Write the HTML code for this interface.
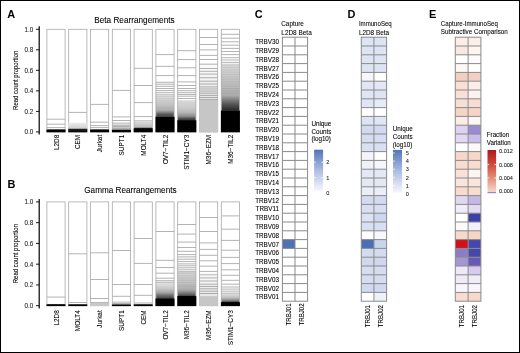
<!DOCTYPE html>
<html><head><meta charset="utf-8"><style>
html,body{margin:0;padding:0;background:#fff;}
body{width:520px;height:353px;overflow:hidden;position:relative;font-family:"Liberation Sans",sans-serif;}
.frame{position:absolute;left:0;top:0;width:518px;height:351px;border:1px solid #000;}
svg{position:absolute;left:0;top:0;filter:blur(0.35px);}
</style></head><body>
<svg width="520" height="353" viewBox="0 0 520 353" font-family="'Liberation Sans', sans-serif"><defs><linearGradient id="lg1" x1="0" y1="0" x2="0" y2="1"><stop offset="0.000" stop-color="#ececec"/><stop offset="0.550" stop-color="#d2d2d2"/><stop offset="0.620" stop-color="#909090"/><stop offset="0.700" stop-color="#202020"/><stop offset="1.000" stop-color="#000"/></linearGradient><linearGradient id="lg2" x1="0" y1="0" x2="0" y2="1"><stop offset="0.000" stop-color="#fafafa"/><stop offset="1.000" stop-color="#d0d0d0"/></linearGradient><linearGradient id="lg3" x1="0" y1="0" x2="0" y2="1"><stop offset="0.000" stop-color="#dadada"/><stop offset="0.800" stop-color="#bcbcbc"/><stop offset="0.920" stop-color="#808080"/><stop offset="1.000" stop-color="#404040"/></linearGradient><linearGradient id="lg4" x1="0" y1="0" x2="0" y2="1"><stop offset="0.000" stop-color="#e0e0e0"/><stop offset="0.450" stop-color="#cacaca"/><stop offset="0.680" stop-color="#b0b0b0"/><stop offset="0.780" stop-color="#8a8a8a"/><stop offset="0.860" stop-color="#606060"/><stop offset="1.000" stop-color="#404040"/></linearGradient><linearGradient id="lg5" x1="0" y1="0" x2="0" y2="1"><stop offset="0.000" stop-color="#d8d8d8"/><stop offset="0.350" stop-color="#cccccc"/><stop offset="0.600" stop-color="#b8b8b8"/><stop offset="0.800" stop-color="#8c8c8c"/><stop offset="0.900" stop-color="#555555"/><stop offset="1.000" stop-color="#303030"/></linearGradient><linearGradient id="lg6" x1="0" y1="0" x2="0" y2="1"><stop offset="0.000" stop-color="#ffffff"/><stop offset="1.000" stop-color="#e4e4e4"/></linearGradient><linearGradient id="lg7" x1="0" y1="0" x2="0" y2="1"><stop offset="0.000" stop-color="#dcdcdc"/><stop offset="0.345" stop-color="#c8c8c8"/><stop offset="0.666" stop-color="#b0b0b0"/><stop offset="0.773" stop-color="#7c7c7c"/><stop offset="0.880" stop-color="#505050"/><stop offset="1.000" stop-color="#282828"/></linearGradient><linearGradient id="lg8" x1="0" y1="0" x2="0" y2="1"><stop offset="0.000" stop-color="#e0e0e0"/><stop offset="0.350" stop-color="#c8c8c8"/><stop offset="0.600" stop-color="#a8a8a8"/><stop offset="0.800" stop-color="#707070"/><stop offset="1.000" stop-color="#404040"/></linearGradient><linearGradient id="lg9" x1="0" y1="0" x2="0" y2="1"><stop offset="0.000" stop-color="#d8d8d8"/><stop offset="0.500" stop-color="#c4c4c4"/><stop offset="0.750" stop-color="#a8a8a8"/><stop offset="0.900" stop-color="#707070"/><stop offset="1.000" stop-color="#404040"/></linearGradient><linearGradient id="lg10" x1="0" y1="0" x2="0" y2="1"><stop offset="0.000" stop-color="#ffffff"/><stop offset="1.000" stop-color="#e6e6e6"/></linearGradient><linearGradient id="lg11" x1="0" y1="0" x2="0" y2="1"><stop offset="0.000" stop-color="#e0e0e0"/><stop offset="0.450" stop-color="#c0c0c0"/><stop offset="0.750" stop-color="#909090"/><stop offset="1.000" stop-color="#404040"/></linearGradient><linearGradient id="lg12" x1="0" y1="0" x2="0" y2="1"><stop offset="0.000" stop-color="#5275b8"/><stop offset="0.500" stop-color="#aebde2"/><stop offset="1.000" stop-color="#f5f7fc"/></linearGradient><linearGradient id="lg13" x1="0" y1="0" x2="0" y2="1"><stop offset="0.000" stop-color="#5275b8"/><stop offset="0.500" stop-color="#aebde2"/><stop offset="1.000" stop-color="#f5f7fc"/></linearGradient><linearGradient id="lg14" x1="0" y1="0" x2="0" y2="1"><stop offset="0.000" stop-color="#b2161c"/><stop offset="0.330" stop-color="#cd4a3c"/><stop offset="0.660" stop-color="#e4907a"/><stop offset="0.960" stop-color="#f5d6ca"/><stop offset="0.975" stop-color="#9a8ed0"/><stop offset="1.000" stop-color="#8a80cc"/></linearGradient></defs><rect width="520" height="353" fill="#fff"/><text transform="translate(7.30 17.50) scale(0.960 1)" font-size="11.40" font-weight="bold" fill="#000">A</text>
<text transform="translate(134.40 22.60) scale(0.914 1)" font-size="9.00" text-anchor="middle" fill="#000" stroke="#000" stroke-width="0.08">Beta Rearrangements</text>
<text transform="translate(18.10 80.30) rotate(-90) scale(0.810 1)" font-size="7.40" text-anchor="middle" fill="#000" stroke="#000" stroke-width="0.09">Read count proportion</text>
<rect x="46.90" y="29.30" width="18.20" height="102.60" fill="#fff"/>
<rect x="46.90" y="129.60" width="18.20" height="2.30" fill="#000"/>
<line x1="46.90" x2="65.10" y1="119.20" y2="119.20" stroke="#808080" stroke-width="0.60"/>
<line x1="46.90" x2="65.10" y1="124.20" y2="124.20" stroke="#808080" stroke-width="0.60"/>
<line x1="46.90" x2="65.10" y1="127.60" y2="127.60" stroke="#808080" stroke-width="0.60"/>
<rect x="46.90" y="29.30" width="18.20" height="102.60" fill="none" stroke="#a8a8a8" stroke-width="0.80"/>
<rect x="46.50" y="129.60" width="19.00" height="2.70" fill="#000"/>
<rect x="68.70" y="29.30" width="18.20" height="102.60" fill="#fff"/>
<rect x="68.70" y="122.90" width="18.20" height="9.00" fill="url(#lg1)"/>
<line x1="68.70" x2="86.90" y1="112.40" y2="112.40" stroke="#808080" stroke-width="0.60"/>
<rect x="68.70" y="29.30" width="18.20" height="102.60" fill="none" stroke="#a8a8a8" stroke-width="0.80"/>
<rect x="68.30" y="122.90" width="19.00" height="9.40" fill="url(#lg1)"/>
<rect x="90.50" y="29.30" width="18.20" height="102.60" fill="#fff"/>
<rect x="90.50" y="129.60" width="18.20" height="2.30" fill="#000"/>
<line x1="90.50" x2="108.70" y1="104.40" y2="104.40" stroke="#808080" stroke-width="0.60"/>
<line x1="90.50" x2="108.70" y1="122.20" y2="122.20" stroke="#808080" stroke-width="0.60"/>
<line x1="90.50" x2="108.70" y1="125.60" y2="125.60" stroke="#808080" stroke-width="0.60"/>
<line x1="90.50" x2="108.70" y1="127.60" y2="127.60" stroke="#808080" stroke-width="0.60"/>
<rect x="90.50" y="29.30" width="18.20" height="102.60" fill="none" stroke="#a8a8a8" stroke-width="0.80"/>
<rect x="90.10" y="129.60" width="19.00" height="2.70" fill="#000"/>
<rect x="112.30" y="29.30" width="18.20" height="102.60" fill="#fff"/>
<rect x="112.30" y="123.10" width="18.20" height="6.70" fill="url(#lg2)"/>
<rect x="112.30" y="129.80" width="18.20" height="2.10" fill="#000"/>
<line x1="112.30" x2="130.50" y1="90.40" y2="90.40" stroke="#808080" stroke-width="0.60"/>
<line x1="112.30" x2="130.50" y1="116.90" y2="116.90" stroke="#808080" stroke-width="0.60"/>
<line x1="112.30" x2="130.50" y1="120.50" y2="120.50" stroke="#808080" stroke-width="0.60"/>
<line x1="112.30" x2="130.50" y1="123.10" y2="123.10" stroke="#808080" stroke-width="0.60"/>
<line x1="112.30" x2="130.50" y1="125.20" y2="125.20" stroke="#808080" stroke-width="0.60"/>
<line x1="112.30" x2="130.50" y1="126.70" y2="126.70" stroke="#808080" stroke-width="0.60"/>
<line x1="112.30" x2="130.50" y1="128.30" y2="128.30" stroke="#808080" stroke-width="0.60"/>
<rect x="112.30" y="29.30" width="18.20" height="102.60" fill="none" stroke="#a8a8a8" stroke-width="0.80"/>
<rect x="111.90" y="129.80" width="19.00" height="2.50" fill="#000"/>
<rect x="134.10" y="29.30" width="18.20" height="102.60" fill="#fff"/>
<rect x="134.10" y="121.60" width="18.20" height="6.70" fill="url(#lg3)"/>
<rect x="134.10" y="128.30" width="18.20" height="3.60" fill="#000"/>
<line x1="134.10" x2="152.30" y1="68.30" y2="68.30" stroke="#808080" stroke-width="0.60"/>
<line x1="134.10" x2="152.30" y1="85.50" y2="85.50" stroke="#808080" stroke-width="0.60"/>
<line x1="134.10" x2="152.30" y1="102.60" y2="102.60" stroke="#808080" stroke-width="0.60"/>
<line x1="134.10" x2="152.30" y1="116.60" y2="116.60" stroke="#808080" stroke-width="0.60"/>
<line x1="134.10" x2="152.30" y1="120.80" y2="120.80" stroke="#808080" stroke-width="0.60"/>
<rect x="134.10" y="29.30" width="18.20" height="102.60" fill="none" stroke="#a8a8a8" stroke-width="0.80"/>
<rect x="133.70" y="128.30" width="19.00" height="4.00" fill="#000"/>
<rect x="155.90" y="29.30" width="18.20" height="102.60" fill="#fff"/>
<rect x="155.90" y="95.50" width="18.20" height="21.30" fill="url(#lg4)"/>
<rect x="155.90" y="116.80" width="18.20" height="15.10" fill="#000"/>
<line x1="155.90" x2="174.10" y1="54.60" y2="54.60" stroke="#808080" stroke-width="0.60"/>
<line x1="155.90" x2="174.10" y1="66.30" y2="66.30" stroke="#808080" stroke-width="0.60"/>
<line x1="155.90" x2="174.10" y1="75.60" y2="75.60" stroke="#808080" stroke-width="0.60"/>
<line x1="155.90" x2="174.10" y1="82.30" y2="82.30" stroke="#808080" stroke-width="0.60"/>
<line x1="155.90" x2="174.10" y1="84.20" y2="84.20" stroke="#808080" stroke-width="0.60"/>
<line x1="155.90" x2="174.10" y1="86.30" y2="86.30" stroke="#808080" stroke-width="0.60"/>
<line x1="155.90" x2="174.10" y1="88.50" y2="88.50" stroke="#808080" stroke-width="0.60"/>
<line x1="155.90" x2="174.10" y1="90.60" y2="90.60" stroke="#808080" stroke-width="0.60"/>
<line x1="155.90" x2="174.10" y1="92.70" y2="92.70" stroke="#808080" stroke-width="0.60"/>
<line x1="155.90" x2="174.10" y1="94.80" y2="94.80" stroke="#808080" stroke-width="0.60"/>
<line x1="155.90" x2="174.10" y1="96.50" y2="96.50" stroke="#000" stroke-opacity="0.12" stroke-width="0.6"/>
<line x1="155.90" x2="174.10" y1="98.40" y2="98.40" stroke="#000" stroke-opacity="0.12" stroke-width="0.6"/>
<line x1="155.90" x2="174.10" y1="100.30" y2="100.30" stroke="#000" stroke-opacity="0.12" stroke-width="0.6"/>
<line x1="155.90" x2="174.10" y1="102.20" y2="102.20" stroke="#000" stroke-opacity="0.12" stroke-width="0.6"/>
<line x1="155.90" x2="174.10" y1="104.10" y2="104.10" stroke="#000" stroke-opacity="0.12" stroke-width="0.6"/>
<line x1="155.90" x2="174.10" y1="106.00" y2="106.00" stroke="#000" stroke-opacity="0.12" stroke-width="0.6"/>
<line x1="155.90" x2="174.10" y1="107.90" y2="107.90" stroke="#000" stroke-opacity="0.12" stroke-width="0.6"/>
<rect x="155.90" y="29.30" width="18.20" height="102.60" fill="none" stroke="#a8a8a8" stroke-width="0.80"/>
<rect x="155.50" y="116.80" width="19.00" height="15.50" fill="#000"/>
<rect x="177.70" y="29.30" width="18.20" height="102.60" fill="#fff"/>
<rect x="177.70" y="100.30" width="18.20" height="20.00" fill="url(#lg5)"/>
<rect x="177.70" y="120.30" width="18.20" height="11.60" fill="#000"/>
<line x1="177.70" x2="195.90" y1="50.70" y2="50.70" stroke="#808080" stroke-width="0.60"/>
<line x1="177.70" x2="195.90" y1="59.60" y2="59.60" stroke="#808080" stroke-width="0.60"/>
<line x1="177.70" x2="195.90" y1="67.80" y2="67.80" stroke="#808080" stroke-width="0.60"/>
<line x1="177.70" x2="195.90" y1="75.60" y2="75.60" stroke="#808080" stroke-width="0.60"/>
<line x1="177.70" x2="195.90" y1="81.90" y2="81.90" stroke="#808080" stroke-width="0.60"/>
<line x1="177.70" x2="195.90" y1="85.50" y2="85.50" stroke="#808080" stroke-width="0.60"/>
<line x1="177.70" x2="195.90" y1="88.50" y2="88.50" stroke="#808080" stroke-width="0.60"/>
<line x1="177.70" x2="195.90" y1="90.70" y2="90.70" stroke="#808080" stroke-width="0.60"/>
<line x1="177.70" x2="195.90" y1="92.70" y2="92.70" stroke="#808080" stroke-width="0.60"/>
<line x1="177.70" x2="195.90" y1="94.50" y2="94.50" stroke="#808080" stroke-width="0.60"/>
<line x1="177.70" x2="195.90" y1="96.20" y2="96.20" stroke="#808080" stroke-width="0.60"/>
<line x1="177.70" x2="195.90" y1="98.50" y2="98.50" stroke="#808080" stroke-width="0.60"/>
<rect x="177.70" y="29.30" width="18.20" height="102.60" fill="none" stroke="#a8a8a8" stroke-width="0.80"/>
<rect x="177.30" y="120.30" width="19.00" height="12.00" fill="#000"/>
<rect x="199.50" y="29.30" width="18.20" height="102.60" fill="#fff"/>
<rect x="199.50" y="60.00" width="18.20" height="40.20" fill="url(#lg6)"/>
<rect x="199.50" y="100.20" width="18.20" height="31.70" fill="#c6c6c6"/>
<line x1="199.50" x2="217.70" y1="37.50" y2="37.50" stroke="#808080" stroke-width="0.60"/>
<line x1="199.50" x2="217.70" y1="44.50" y2="44.50" stroke="#808080" stroke-width="0.60"/>
<line x1="199.50" x2="217.70" y1="49.90" y2="49.90" stroke="#808080" stroke-width="0.60"/>
<line x1="199.50" x2="217.70" y1="55.40" y2="55.40" stroke="#808080" stroke-width="0.60"/>
<line x1="199.50" x2="217.70" y1="59.50" y2="59.50" stroke="#808080" stroke-width="0.60"/>
<line x1="199.50" x2="217.70" y1="64.20" y2="64.20" stroke="#808080" stroke-width="0.60"/>
<line x1="199.50" x2="217.70" y1="68.50" y2="68.50" stroke="#808080" stroke-width="0.60"/>
<line x1="199.50" x2="217.70" y1="71.30" y2="71.30" stroke="#808080" stroke-width="0.60"/>
<line x1="199.50" x2="217.70" y1="74.10" y2="74.10" stroke="#808080" stroke-width="0.60"/>
<line x1="199.50" x2="217.70" y1="77.70" y2="77.70" stroke="#808080" stroke-width="0.60"/>
<line x1="199.50" x2="217.70" y1="81.20" y2="81.20" stroke="#808080" stroke-width="0.60"/>
<line x1="199.50" x2="217.70" y1="84.00" y2="84.00" stroke="#808080" stroke-width="0.60"/>
<line x1="199.50" x2="217.70" y1="86.90" y2="86.90" stroke="#808080" stroke-width="0.60"/>
<line x1="199.50" x2="217.70" y1="89.00" y2="89.00" stroke="#808080" stroke-width="0.60"/>
<line x1="199.50" x2="217.70" y1="91.10" y2="91.10" stroke="#808080" stroke-width="0.60"/>
<line x1="199.50" x2="217.70" y1="93.20" y2="93.20" stroke="#808080" stroke-width="0.60"/>
<line x1="199.50" x2="217.70" y1="95.40" y2="95.40" stroke="#808080" stroke-width="0.60"/>
<line x1="199.50" x2="217.70" y1="97.50" y2="97.50" stroke="#808080" stroke-width="0.60"/>
<line x1="199.50" x2="217.70" y1="99.60" y2="99.60" stroke="#808080" stroke-width="0.60"/>
<rect x="199.50" y="29.30" width="18.20" height="102.60" fill="none" stroke="#a8a8a8" stroke-width="0.80"/>
<rect x="199.10" y="100.20" width="19.00" height="32.10" fill="#c6c6c6"/>
<rect x="221.30" y="29.30" width="18.20" height="102.60" fill="#fff"/>
<rect x="221.30" y="63.90" width="18.20" height="46.70" fill="url(#lg7)"/>
<rect x="221.30" y="110.60" width="18.20" height="21.30" fill="#000"/>
<line x1="221.30" x2="239.50" y1="34.30" y2="34.30" stroke="#808080" stroke-width="0.60"/>
<line x1="221.30" x2="239.50" y1="38.20" y2="38.20" stroke="#808080" stroke-width="0.60"/>
<line x1="221.30" x2="239.50" y1="41.80" y2="41.80" stroke="#808080" stroke-width="0.60"/>
<line x1="221.30" x2="239.50" y1="45.20" y2="45.20" stroke="#808080" stroke-width="0.60"/>
<line x1="221.30" x2="239.50" y1="48.40" y2="48.40" stroke="#808080" stroke-width="0.60"/>
<line x1="221.30" x2="239.50" y1="51.50" y2="51.50" stroke="#808080" stroke-width="0.60"/>
<line x1="221.30" x2="239.50" y1="54.60" y2="54.60" stroke="#808080" stroke-width="0.60"/>
<line x1="221.30" x2="239.50" y1="57.70" y2="57.70" stroke="#808080" stroke-width="0.60"/>
<line x1="221.30" x2="239.50" y1="60.00" y2="60.00" stroke="#808080" stroke-width="0.60"/>
<line x1="221.30" x2="239.50" y1="62.40" y2="62.40" stroke="#808080" stroke-width="0.60"/>
<line x1="221.30" x2="239.50" y1="64.00" y2="64.00" stroke="#000" stroke-opacity="0.12" stroke-width="0.6"/>
<line x1="221.30" x2="239.50" y1="65.75" y2="65.75" stroke="#000" stroke-opacity="0.12" stroke-width="0.6"/>
<line x1="221.30" x2="239.50" y1="67.50" y2="67.50" stroke="#000" stroke-opacity="0.12" stroke-width="0.6"/>
<line x1="221.30" x2="239.50" y1="69.25" y2="69.25" stroke="#000" stroke-opacity="0.12" stroke-width="0.6"/>
<line x1="221.30" x2="239.50" y1="71.00" y2="71.00" stroke="#000" stroke-opacity="0.12" stroke-width="0.6"/>
<line x1="221.30" x2="239.50" y1="72.75" y2="72.75" stroke="#000" stroke-opacity="0.12" stroke-width="0.6"/>
<line x1="221.30" x2="239.50" y1="74.50" y2="74.50" stroke="#000" stroke-opacity="0.12" stroke-width="0.6"/>
<line x1="221.30" x2="239.50" y1="76.25" y2="76.25" stroke="#000" stroke-opacity="0.12" stroke-width="0.6"/>
<line x1="221.30" x2="239.50" y1="78.00" y2="78.00" stroke="#000" stroke-opacity="0.12" stroke-width="0.6"/>
<line x1="221.30" x2="239.50" y1="79.75" y2="79.75" stroke="#000" stroke-opacity="0.12" stroke-width="0.6"/>
<line x1="221.30" x2="239.50" y1="81.50" y2="81.50" stroke="#000" stroke-opacity="0.12" stroke-width="0.6"/>
<line x1="221.30" x2="239.50" y1="83.25" y2="83.25" stroke="#000" stroke-opacity="0.12" stroke-width="0.6"/>
<line x1="221.30" x2="239.50" y1="85.00" y2="85.00" stroke="#000" stroke-opacity="0.12" stroke-width="0.6"/>
<line x1="221.30" x2="239.50" y1="86.75" y2="86.75" stroke="#000" stroke-opacity="0.12" stroke-width="0.6"/>
<line x1="221.30" x2="239.50" y1="88.50" y2="88.50" stroke="#000" stroke-opacity="0.12" stroke-width="0.6"/>
<line x1="221.30" x2="239.50" y1="90.25" y2="90.25" stroke="#000" stroke-opacity="0.12" stroke-width="0.6"/>
<line x1="221.30" x2="239.50" y1="92.00" y2="92.00" stroke="#000" stroke-opacity="0.12" stroke-width="0.6"/>
<line x1="221.30" x2="239.50" y1="93.75" y2="93.75" stroke="#000" stroke-opacity="0.12" stroke-width="0.6"/>
<rect x="221.30" y="29.30" width="18.20" height="102.60" fill="none" stroke="#a8a8a8" stroke-width="0.80"/>
<rect x="220.90" y="110.60" width="19.00" height="21.70" fill="#000"/>
<line x1="39.20" x2="39.20" y1="26.20" y2="134.60" stroke="#000" stroke-width="1.2"/>
<line x1="36" x2="39.20" y1="131.90" y2="131.90" stroke="#000" stroke-width="0.9"/>
<text transform="translate(33.10 134.30) scale(0.920 1)" font-size="6.80" text-anchor="end" fill="#222" stroke="#222" stroke-width="0.08">0.0</text>
<line x1="36" x2="39.20" y1="111.38" y2="111.38" stroke="#000" stroke-width="0.9"/>
<text transform="translate(33.10 113.78) scale(0.920 1)" font-size="6.80" text-anchor="end" fill="#222" stroke="#222" stroke-width="0.08">0.2</text>
<line x1="36" x2="39.20" y1="90.86" y2="90.86" stroke="#000" stroke-width="0.9"/>
<text transform="translate(33.10 93.26) scale(0.920 1)" font-size="6.80" text-anchor="end" fill="#222" stroke="#222" stroke-width="0.08">0.4</text>
<line x1="36" x2="39.20" y1="70.34" y2="70.34" stroke="#000" stroke-width="0.9"/>
<text transform="translate(33.10 72.74) scale(0.920 1)" font-size="6.80" text-anchor="end" fill="#222" stroke="#222" stroke-width="0.08">0.6</text>
<line x1="36" x2="39.20" y1="49.82" y2="49.82" stroke="#000" stroke-width="0.9"/>
<text transform="translate(33.10 52.22) scale(0.920 1)" font-size="6.80" text-anchor="end" fill="#222" stroke="#222" stroke-width="0.08">0.8</text>
<line x1="36" x2="39.20" y1="29.30" y2="29.30" stroke="#000" stroke-width="0.9"/>
<text transform="translate(33.10 31.70) scale(0.920 1)" font-size="6.80" text-anchor="end" fill="#222" stroke="#222" stroke-width="0.08">1.0</text>
<text transform="translate(58.50 134.80) rotate(-90)" font-size="6.40" text-anchor="end" fill="#000" stroke="#000" stroke-width="0.07">L2D8</text>
<text transform="translate(80.30 134.80) rotate(-90)" font-size="6.40" text-anchor="end" fill="#000" stroke="#000" stroke-width="0.07">CEM</text>
<text transform="translate(102.10 134.80) rotate(-90)" font-size="6.40" text-anchor="end" fill="#000" stroke="#000" stroke-width="0.07">Jurkat</text>
<text transform="translate(123.90 134.80) rotate(-90)" font-size="6.40" text-anchor="end" fill="#000" stroke="#000" stroke-width="0.07">SUPT1</text>
<text transform="translate(145.70 134.80) rotate(-90)" font-size="6.40" text-anchor="end" fill="#000" stroke="#000" stroke-width="0.07">MOLT4</text>
<text transform="translate(167.50 134.80) rotate(-90)" font-size="6.40" text-anchor="end" fill="#000" stroke="#000" stroke-width="0.07">OV7−TIL2</text>
<text transform="translate(189.30 134.80) rotate(-90)" font-size="6.40" text-anchor="end" fill="#000" stroke="#000" stroke-width="0.07">STIM1−CY3</text>
<text transform="translate(211.10 134.80) rotate(-90)" font-size="6.40" text-anchor="end" fill="#000" stroke="#000" stroke-width="0.07">M36−EZM</text>
<text transform="translate(232.90 134.80) rotate(-90)" font-size="6.40" text-anchor="end" fill="#000" stroke="#000" stroke-width="0.07">M36−TIL2</text>
<text transform="translate(7.40 188.20) scale(0.960 1)" font-size="11.40" font-weight="bold" fill="#000">B</text>
<text transform="translate(130.40 193.30) scale(0.911 1)" font-size="9.00" text-anchor="middle" fill="#000" stroke="#000" stroke-width="0.08">Gamma Rearrangements</text>
<text transform="translate(18.10 253.60) rotate(-90) scale(0.810 1)" font-size="7.40" text-anchor="middle" fill="#000" stroke="#000" stroke-width="0.09">Read count proportion</text>
<rect x="46.90" y="201.90" width="18.20" height="103.80" fill="#fff"/>
<rect x="46.90" y="304.40" width="18.20" height="1.30" fill="#000"/>
<line x1="46.90" x2="65.10" y1="297.10" y2="297.10" stroke="#808080" stroke-width="0.60"/>
<rect x="46.90" y="201.90" width="18.20" height="103.80" fill="none" stroke="#a8a8a8" stroke-width="0.80"/>
<rect x="46.50" y="304.40" width="19.00" height="1.70" fill="#000"/>
<rect x="68.70" y="201.90" width="18.20" height="103.80" fill="#fff"/>
<rect x="68.70" y="304.50" width="18.20" height="1.20" fill="#000"/>
<line x1="68.70" x2="86.90" y1="253.80" y2="253.80" stroke="#808080" stroke-width="0.60"/>
<line x1="68.70" x2="86.90" y1="302.50" y2="302.50" stroke="#808080" stroke-width="0.60"/>
<rect x="68.70" y="201.90" width="18.20" height="103.80" fill="none" stroke="#a8a8a8" stroke-width="0.80"/>
<rect x="68.30" y="304.50" width="19.00" height="1.60" fill="#000"/>
<rect x="90.50" y="201.90" width="18.20" height="103.80" fill="#fff"/>
<rect x="90.50" y="302.50" width="18.20" height="3.20" fill="#c8c8c8"/>
<line x1="90.50" x2="108.70" y1="252.80" y2="252.80" stroke="#808080" stroke-width="0.60"/>
<line x1="90.50" x2="108.70" y1="279.50" y2="279.50" stroke="#808080" stroke-width="0.60"/>
<line x1="90.50" x2="108.70" y1="298.50" y2="298.50" stroke="#808080" stroke-width="0.60"/>
<line x1="90.50" x2="108.70" y1="302.50" y2="302.50" stroke="#808080" stroke-width="0.60"/>
<rect x="90.50" y="201.90" width="18.20" height="103.80" fill="none" stroke="#a8a8a8" stroke-width="0.80"/>
<rect x="90.10" y="302.50" width="19.00" height="3.60" fill="#c8c8c8"/>
<rect x="112.30" y="201.90" width="18.20" height="103.80" fill="#fff"/>
<rect x="112.30" y="304.60" width="18.20" height="1.10" fill="#000"/>
<line x1="112.30" x2="130.50" y1="250.50" y2="250.50" stroke="#808080" stroke-width="0.60"/>
<line x1="112.30" x2="130.50" y1="284.50" y2="284.50" stroke="#808080" stroke-width="0.60"/>
<line x1="112.30" x2="130.50" y1="296.30" y2="296.30" stroke="#808080" stroke-width="0.60"/>
<line x1="112.30" x2="130.50" y1="302.10" y2="302.10" stroke="#808080" stroke-width="0.60"/>
<line x1="112.30" x2="130.50" y1="303.50" y2="303.50" stroke="#808080" stroke-width="0.60"/>
<rect x="112.30" y="201.90" width="18.20" height="103.80" fill="none" stroke="#a8a8a8" stroke-width="0.80"/>
<rect x="111.90" y="304.60" width="19.00" height="1.50" fill="#000"/>
<rect x="134.10" y="201.90" width="18.20" height="103.80" fill="#fff"/>
<rect x="134.10" y="304.50" width="18.20" height="1.20" fill="#000"/>
<line x1="134.10" x2="152.30" y1="238.50" y2="238.50" stroke="#808080" stroke-width="0.60"/>
<line x1="134.10" x2="152.30" y1="263.40" y2="263.40" stroke="#808080" stroke-width="0.60"/>
<line x1="134.10" x2="152.30" y1="284.50" y2="284.50" stroke="#808080" stroke-width="0.60"/>
<line x1="134.10" x2="152.30" y1="295.30" y2="295.30" stroke="#808080" stroke-width="0.60"/>
<line x1="134.10" x2="152.30" y1="303.00" y2="303.00" stroke="#808080" stroke-width="0.60"/>
<rect x="134.10" y="201.90" width="18.20" height="103.80" fill="none" stroke="#a8a8a8" stroke-width="0.80"/>
<rect x="133.70" y="304.50" width="19.00" height="1.60" fill="#000"/>
<rect x="155.90" y="201.90" width="18.20" height="103.80" fill="#fff"/>
<rect x="155.90" y="283.00" width="18.20" height="15.50" fill="url(#lg8)"/>
<rect x="155.90" y="298.50" width="18.20" height="7.20" fill="#000"/>
<line x1="155.90" x2="174.10" y1="231.50" y2="231.50" stroke="#808080" stroke-width="0.60"/>
<line x1="155.90" x2="174.10" y1="260.30" y2="260.30" stroke="#808080" stroke-width="0.60"/>
<line x1="155.90" x2="174.10" y1="267.50" y2="267.50" stroke="#808080" stroke-width="0.60"/>
<line x1="155.90" x2="174.10" y1="273.20" y2="273.20" stroke="#808080" stroke-width="0.60"/>
<line x1="155.90" x2="174.10" y1="278.20" y2="278.20" stroke="#808080" stroke-width="0.60"/>
<line x1="155.90" x2="174.10" y1="280.70" y2="280.70" stroke="#808080" stroke-width="0.60"/>
<line x1="155.90" x2="174.10" y1="282.30" y2="282.30" stroke="#808080" stroke-width="0.60"/>
<rect x="155.90" y="201.90" width="18.20" height="103.80" fill="none" stroke="#a8a8a8" stroke-width="0.80"/>
<rect x="155.50" y="298.50" width="19.00" height="7.60" fill="#000"/>
<rect x="177.70" y="201.90" width="18.20" height="103.80" fill="#fff"/>
<rect x="177.70" y="272.00" width="18.20" height="24.10" fill="url(#lg9)"/>
<rect x="177.70" y="296.10" width="18.20" height="9.60" fill="#000"/>
<line x1="177.70" x2="195.90" y1="224.50" y2="224.50" stroke="#808080" stroke-width="0.60"/>
<line x1="177.70" x2="195.90" y1="234.10" y2="234.10" stroke="#808080" stroke-width="0.60"/>
<line x1="177.70" x2="195.90" y1="242.10" y2="242.10" stroke="#808080" stroke-width="0.60"/>
<line x1="177.70" x2="195.90" y1="247.50" y2="247.50" stroke="#808080" stroke-width="0.60"/>
<line x1="177.70" x2="195.90" y1="251.30" y2="251.30" stroke="#808080" stroke-width="0.60"/>
<line x1="177.70" x2="195.90" y1="254.60" y2="254.60" stroke="#808080" stroke-width="0.60"/>
<line x1="177.70" x2="195.90" y1="256.90" y2="256.90" stroke="#808080" stroke-width="0.60"/>
<line x1="177.70" x2="195.90" y1="259.20" y2="259.20" stroke="#808080" stroke-width="0.60"/>
<line x1="177.70" x2="195.90" y1="261.60" y2="261.60" stroke="#808080" stroke-width="0.60"/>
<line x1="177.70" x2="195.90" y1="263.90" y2="263.90" stroke="#808080" stroke-width="0.60"/>
<line x1="177.70" x2="195.90" y1="265.80" y2="265.80" stroke="#808080" stroke-width="0.60"/>
<line x1="177.70" x2="195.90" y1="267.80" y2="267.80" stroke="#808080" stroke-width="0.60"/>
<line x1="177.70" x2="195.90" y1="269.80" y2="269.80" stroke="#808080" stroke-width="0.60"/>
<line x1="177.70" x2="195.90" y1="271.70" y2="271.70" stroke="#808080" stroke-width="0.60"/>
<line x1="177.70" x2="195.90" y1="273.50" y2="273.50" stroke="#000" stroke-opacity="0.12" stroke-width="0.6"/>
<line x1="177.70" x2="195.90" y1="275.30" y2="275.30" stroke="#000" stroke-opacity="0.12" stroke-width="0.6"/>
<line x1="177.70" x2="195.90" y1="277.10" y2="277.10" stroke="#000" stroke-opacity="0.12" stroke-width="0.6"/>
<line x1="177.70" x2="195.90" y1="278.90" y2="278.90" stroke="#000" stroke-opacity="0.12" stroke-width="0.6"/>
<line x1="177.70" x2="195.90" y1="280.70" y2="280.70" stroke="#000" stroke-opacity="0.12" stroke-width="0.6"/>
<line x1="177.70" x2="195.90" y1="282.50" y2="282.50" stroke="#000" stroke-opacity="0.12" stroke-width="0.6"/>
<line x1="177.70" x2="195.90" y1="284.30" y2="284.30" stroke="#000" stroke-opacity="0.12" stroke-width="0.6"/>
<line x1="177.70" x2="195.90" y1="286.10" y2="286.10" stroke="#000" stroke-opacity="0.12" stroke-width="0.6"/>
<rect x="177.70" y="201.90" width="18.20" height="103.80" fill="none" stroke="#a8a8a8" stroke-width="0.80"/>
<rect x="177.30" y="296.10" width="19.00" height="10.00" fill="#000"/>
<rect x="199.50" y="201.90" width="18.20" height="103.80" fill="#fff"/>
<rect x="199.50" y="270.00" width="18.20" height="26.30" fill="url(#lg10)"/>
<rect x="199.50" y="296.30" width="18.20" height="9.40" fill="#c6c6c6"/>
<line x1="199.50" x2="217.70" y1="217.50" y2="217.50" stroke="#808080" stroke-width="0.60"/>
<line x1="199.50" x2="217.70" y1="231.50" y2="231.50" stroke="#808080" stroke-width="0.60"/>
<line x1="199.50" x2="217.70" y1="242.90" y2="242.90" stroke="#808080" stroke-width="0.60"/>
<line x1="199.50" x2="217.70" y1="249.40" y2="249.40" stroke="#808080" stroke-width="0.60"/>
<line x1="199.50" x2="217.70" y1="255.30" y2="255.30" stroke="#808080" stroke-width="0.60"/>
<line x1="199.50" x2="217.70" y1="260.80" y2="260.80" stroke="#808080" stroke-width="0.60"/>
<line x1="199.50" x2="217.70" y1="266.20" y2="266.20" stroke="#808080" stroke-width="0.60"/>
<line x1="199.50" x2="217.70" y1="271.40" y2="271.40" stroke="#808080" stroke-width="0.60"/>
<line x1="199.50" x2="217.70" y1="274.80" y2="274.80" stroke="#808080" stroke-width="0.60"/>
<line x1="199.50" x2="217.70" y1="277.90" y2="277.90" stroke="#808080" stroke-width="0.60"/>
<line x1="199.50" x2="217.70" y1="281.00" y2="281.00" stroke="#808080" stroke-width="0.60"/>
<line x1="199.50" x2="217.70" y1="284.20" y2="284.20" stroke="#808080" stroke-width="0.60"/>
<line x1="199.50" x2="217.70" y1="286.50" y2="286.50" stroke="#808080" stroke-width="0.60"/>
<line x1="199.50" x2="217.70" y1="288.80" y2="288.80" stroke="#808080" stroke-width="0.60"/>
<line x1="199.50" x2="217.70" y1="291.20" y2="291.20" stroke="#808080" stroke-width="0.60"/>
<line x1="199.50" x2="217.70" y1="293.50" y2="293.50" stroke="#808080" stroke-width="0.60"/>
<rect x="199.50" y="201.90" width="18.20" height="103.80" fill="none" stroke="#a8a8a8" stroke-width="0.80"/>
<rect x="199.10" y="296.30" width="19.00" height="9.80" fill="#c6c6c6"/>
<rect x="221.30" y="201.90" width="18.20" height="103.80" fill="#fff"/>
<rect x="221.30" y="293.80" width="18.20" height="8.40" fill="url(#lg11)"/>
<rect x="221.30" y="302.20" width="18.20" height="3.50" fill="#000"/>
<line x1="221.30" x2="239.50" y1="215.90" y2="215.90" stroke="#808080" stroke-width="0.60"/>
<line x1="221.30" x2="239.50" y1="229.20" y2="229.20" stroke="#808080" stroke-width="0.60"/>
<line x1="221.30" x2="239.50" y1="240.40" y2="240.40" stroke="#808080" stroke-width="0.60"/>
<line x1="221.30" x2="239.50" y1="250.20" y2="250.20" stroke="#808080" stroke-width="0.60"/>
<line x1="221.30" x2="239.50" y1="257.40" y2="257.40" stroke="#808080" stroke-width="0.60"/>
<line x1="221.30" x2="239.50" y1="263.60" y2="263.60" stroke="#808080" stroke-width="0.60"/>
<line x1="221.30" x2="239.50" y1="269.80" y2="269.80" stroke="#808080" stroke-width="0.60"/>
<line x1="221.30" x2="239.50" y1="275.30" y2="275.30" stroke="#808080" stroke-width="0.60"/>
<line x1="221.30" x2="239.50" y1="280.30" y2="280.30" stroke="#808080" stroke-width="0.60"/>
<line x1="221.30" x2="239.50" y1="284.20" y2="284.20" stroke="#808080" stroke-width="0.60"/>
<line x1="221.30" x2="239.50" y1="287.00" y2="287.00" stroke="#808080" stroke-width="0.60"/>
<line x1="221.30" x2="239.50" y1="289.10" y2="289.10" stroke="#808080" stroke-width="0.60"/>
<line x1="221.30" x2="239.50" y1="291.20" y2="291.20" stroke="#808080" stroke-width="0.60"/>
<line x1="221.30" x2="239.50" y1="293.20" y2="293.20" stroke="#808080" stroke-width="0.60"/>
<rect x="221.30" y="201.90" width="18.20" height="103.80" fill="none" stroke="#a8a8a8" stroke-width="0.80"/>
<rect x="220.90" y="302.20" width="19.00" height="3.90" fill="#000"/>
<line x1="39.20" x2="39.20" y1="198.90" y2="308.40" stroke="#000" stroke-width="1.2"/>
<line x1="36" x2="39.20" y1="305.70" y2="305.70" stroke="#000" stroke-width="0.9"/>
<text transform="translate(33.10 308.10) scale(0.920 1)" font-size="6.80" text-anchor="end" fill="#222" stroke="#222" stroke-width="0.08">0.0</text>
<line x1="36" x2="39.20" y1="284.94" y2="284.94" stroke="#000" stroke-width="0.9"/>
<text transform="translate(33.10 287.34) scale(0.920 1)" font-size="6.80" text-anchor="end" fill="#222" stroke="#222" stroke-width="0.08">0.2</text>
<line x1="36" x2="39.20" y1="264.18" y2="264.18" stroke="#000" stroke-width="0.9"/>
<text transform="translate(33.10 266.58) scale(0.920 1)" font-size="6.80" text-anchor="end" fill="#222" stroke="#222" stroke-width="0.08">0.4</text>
<line x1="36" x2="39.20" y1="243.42" y2="243.42" stroke="#000" stroke-width="0.9"/>
<text transform="translate(33.10 245.82) scale(0.920 1)" font-size="6.80" text-anchor="end" fill="#222" stroke="#222" stroke-width="0.08">0.6</text>
<line x1="36" x2="39.20" y1="222.66" y2="222.66" stroke="#000" stroke-width="0.9"/>
<text transform="translate(33.10 225.06) scale(0.920 1)" font-size="6.80" text-anchor="end" fill="#222" stroke="#222" stroke-width="0.08">0.8</text>
<line x1="36" x2="39.20" y1="201.90" y2="201.90" stroke="#000" stroke-width="0.9"/>
<text transform="translate(33.10 204.30) scale(0.920 1)" font-size="6.80" text-anchor="end" fill="#222" stroke="#222" stroke-width="0.08">1.0</text>
<text transform="translate(58.50 310.30) rotate(-90)" font-size="6.40" text-anchor="end" fill="#000" stroke="#000" stroke-width="0.07">L2D8</text>
<text transform="translate(80.30 310.30) rotate(-90)" font-size="6.40" text-anchor="end" fill="#000" stroke="#000" stroke-width="0.07">MOLT4</text>
<text transform="translate(102.10 310.30) rotate(-90)" font-size="6.40" text-anchor="end" fill="#000" stroke="#000" stroke-width="0.07">Jurkat</text>
<text transform="translate(123.90 310.30) rotate(-90)" font-size="6.40" text-anchor="end" fill="#000" stroke="#000" stroke-width="0.07">SUPT1</text>
<text transform="translate(145.70 310.30) rotate(-90)" font-size="6.40" text-anchor="end" fill="#000" stroke="#000" stroke-width="0.07">CEM</text>
<text transform="translate(167.50 310.30) rotate(-90)" font-size="6.40" text-anchor="end" fill="#000" stroke="#000" stroke-width="0.07">OV7−TIL2</text>
<text transform="translate(189.30 310.30) rotate(-90)" font-size="6.40" text-anchor="end" fill="#000" stroke="#000" stroke-width="0.07">M36−TIL2</text>
<text transform="translate(211.10 310.30) rotate(-90)" font-size="6.40" text-anchor="end" fill="#000" stroke="#000" stroke-width="0.07">M36−EZM</text>
<text transform="translate(232.90 310.30) rotate(-90)" font-size="6.40" text-anchor="end" fill="#000" stroke="#000" stroke-width="0.07">STIM1−CY3</text>
<text transform="translate(254.70 17.60) scale(0.960 1)" font-size="11.40" font-weight="bold" fill="#000">C</text>
<text transform="translate(281.30 26.30) scale(0.984 1)" font-size="6.45" fill="#000" stroke="#000" stroke-width="0.07">Capture</text>
<text transform="translate(281.30 34.90)" font-size="6.45" fill="#000" stroke="#000" stroke-width="0.07">L2D8 Beta</text>
<rect x="282.40" y="239.60" width="12.60" height="8.80" fill="#4f72b4"/>
<line x1="282.40" x2="307.60" y1="46.00" y2="46.00" stroke="#8a8a8a" stroke-width="1"/>
<line x1="282.40" x2="307.60" y1="54.80" y2="54.80" stroke="#8a8a8a" stroke-width="1"/>
<line x1="282.40" x2="307.60" y1="63.60" y2="63.60" stroke="#8a8a8a" stroke-width="1"/>
<line x1="282.40" x2="307.60" y1="72.40" y2="72.40" stroke="#8a8a8a" stroke-width="1"/>
<line x1="282.40" x2="307.60" y1="81.20" y2="81.20" stroke="#8a8a8a" stroke-width="1"/>
<line x1="282.40" x2="307.60" y1="90.00" y2="90.00" stroke="#8a8a8a" stroke-width="1"/>
<line x1="282.40" x2="307.60" y1="98.80" y2="98.80" stroke="#8a8a8a" stroke-width="1"/>
<line x1="282.40" x2="307.60" y1="107.60" y2="107.60" stroke="#8a8a8a" stroke-width="1"/>
<line x1="282.40" x2="307.60" y1="116.40" y2="116.40" stroke="#8a8a8a" stroke-width="1"/>
<line x1="282.40" x2="307.60" y1="125.20" y2="125.20" stroke="#8a8a8a" stroke-width="1"/>
<line x1="282.40" x2="307.60" y1="134.00" y2="134.00" stroke="#8a8a8a" stroke-width="1"/>
<line x1="282.40" x2="307.60" y1="142.80" y2="142.80" stroke="#8a8a8a" stroke-width="1"/>
<line x1="282.40" x2="307.60" y1="151.60" y2="151.60" stroke="#8a8a8a" stroke-width="1"/>
<line x1="282.40" x2="307.60" y1="160.40" y2="160.40" stroke="#8a8a8a" stroke-width="1"/>
<line x1="282.40" x2="307.60" y1="169.20" y2="169.20" stroke="#8a8a8a" stroke-width="1"/>
<line x1="282.40" x2="307.60" y1="178.00" y2="178.00" stroke="#8a8a8a" stroke-width="1"/>
<line x1="282.40" x2="307.60" y1="186.80" y2="186.80" stroke="#8a8a8a" stroke-width="1"/>
<line x1="282.40" x2="307.60" y1="195.60" y2="195.60" stroke="#8a8a8a" stroke-width="1"/>
<line x1="282.40" x2="307.60" y1="204.40" y2="204.40" stroke="#8a8a8a" stroke-width="1"/>
<line x1="282.40" x2="307.60" y1="213.20" y2="213.20" stroke="#8a8a8a" stroke-width="1"/>
<line x1="282.40" x2="307.60" y1="222.00" y2="222.00" stroke="#8a8a8a" stroke-width="1"/>
<line x1="282.40" x2="307.60" y1="230.80" y2="230.80" stroke="#8a8a8a" stroke-width="1"/>
<line x1="282.40" x2="307.60" y1="239.60" y2="239.60" stroke="#8a8a8a" stroke-width="1"/>
<line x1="282.40" x2="307.60" y1="248.40" y2="248.40" stroke="#8a8a8a" stroke-width="1"/>
<line x1="282.40" x2="307.60" y1="257.20" y2="257.20" stroke="#8a8a8a" stroke-width="1"/>
<line x1="282.40" x2="307.60" y1="266.00" y2="266.00" stroke="#8a8a8a" stroke-width="1"/>
<line x1="282.40" x2="307.60" y1="274.80" y2="274.80" stroke="#8a8a8a" stroke-width="1"/>
<line x1="282.40" x2="307.60" y1="283.60" y2="283.60" stroke="#8a8a8a" stroke-width="1"/>
<line x1="282.40" x2="307.60" y1="292.40" y2="292.40" stroke="#8a8a8a" stroke-width="1"/>
<line x1="295.00" x2="295.00" y1="37.20" y2="301.20" stroke="#8a8a8a" stroke-width="1"/>
<rect x="282.40" y="37.20" width="25.20" height="264.00" fill="none" stroke="#8a8a8a" stroke-width="1"/>
<text transform="translate(279.00 44.25) scale(0.822 1)" font-size="7.70" text-anchor="end" fill="#000" stroke="#000" stroke-width="0.09">TRBV30</text>
<text transform="translate(279.00 53.05) scale(0.822 1)" font-size="7.70" text-anchor="end" fill="#000" stroke="#000" stroke-width="0.09">TRBV29</text>
<text transform="translate(279.00 61.85) scale(0.822 1)" font-size="7.70" text-anchor="end" fill="#000" stroke="#000" stroke-width="0.09">TRBV28</text>
<text transform="translate(279.00 70.65) scale(0.822 1)" font-size="7.70" text-anchor="end" fill="#000" stroke="#000" stroke-width="0.09">TRBV27</text>
<text transform="translate(279.00 79.45) scale(0.822 1)" font-size="7.70" text-anchor="end" fill="#000" stroke="#000" stroke-width="0.09">TRBV26</text>
<text transform="translate(279.00 88.25) scale(0.822 1)" font-size="7.70" text-anchor="end" fill="#000" stroke="#000" stroke-width="0.09">TRBV25</text>
<text transform="translate(279.00 97.05) scale(0.822 1)" font-size="7.70" text-anchor="end" fill="#000" stroke="#000" stroke-width="0.09">TRBV24</text>
<text transform="translate(279.00 105.85) scale(0.822 1)" font-size="7.70" text-anchor="end" fill="#000" stroke="#000" stroke-width="0.09">TRBV23</text>
<text transform="translate(279.00 114.65) scale(0.822 1)" font-size="7.70" text-anchor="end" fill="#000" stroke="#000" stroke-width="0.09">TRBV22</text>
<text transform="translate(279.00 123.45) scale(0.822 1)" font-size="7.70" text-anchor="end" fill="#000" stroke="#000" stroke-width="0.09">TRBV21</text>
<text transform="translate(279.00 132.25) scale(0.822 1)" font-size="7.70" text-anchor="end" fill="#000" stroke="#000" stroke-width="0.09">TRBV20</text>
<text transform="translate(279.00 141.05) scale(0.822 1)" font-size="7.70" text-anchor="end" fill="#000" stroke="#000" stroke-width="0.09">TRBV19</text>
<text transform="translate(279.00 149.85) scale(0.822 1)" font-size="7.70" text-anchor="end" fill="#000" stroke="#000" stroke-width="0.09">TRBV18</text>
<text transform="translate(279.00 158.65) scale(0.822 1)" font-size="7.70" text-anchor="end" fill="#000" stroke="#000" stroke-width="0.09">TRBV17</text>
<text transform="translate(279.00 167.45) scale(0.822 1)" font-size="7.70" text-anchor="end" fill="#000" stroke="#000" stroke-width="0.09">TRBV16</text>
<text transform="translate(279.00 176.25) scale(0.822 1)" font-size="7.70" text-anchor="end" fill="#000" stroke="#000" stroke-width="0.09">TRBV15</text>
<text transform="translate(279.00 185.05) scale(0.822 1)" font-size="7.70" text-anchor="end" fill="#000" stroke="#000" stroke-width="0.09">TRBV14</text>
<text transform="translate(279.00 193.85) scale(0.822 1)" font-size="7.70" text-anchor="end" fill="#000" stroke="#000" stroke-width="0.09">TRBV13</text>
<text transform="translate(279.00 202.65) scale(0.822 1)" font-size="7.70" text-anchor="end" fill="#000" stroke="#000" stroke-width="0.09">TRBV12</text>
<text transform="translate(279.00 211.45) scale(0.822 1)" font-size="7.70" text-anchor="end" fill="#000" stroke="#000" stroke-width="0.09">TRBV11</text>
<text transform="translate(279.00 220.25) scale(0.822 1)" font-size="7.70" text-anchor="end" fill="#000" stroke="#000" stroke-width="0.09">TRBV10</text>
<text transform="translate(279.00 229.05) scale(0.822 1)" font-size="7.70" text-anchor="end" fill="#000" stroke="#000" stroke-width="0.09">TRBV09</text>
<text transform="translate(279.00 237.85) scale(0.822 1)" font-size="7.70" text-anchor="end" fill="#000" stroke="#000" stroke-width="0.09">TRBV08</text>
<text transform="translate(279.00 246.65) scale(0.822 1)" font-size="7.70" text-anchor="end" fill="#000" stroke="#000" stroke-width="0.09">TRBV07</text>
<text transform="translate(279.00 255.45) scale(0.822 1)" font-size="7.70" text-anchor="end" fill="#000" stroke="#000" stroke-width="0.09">TRBV06</text>
<text transform="translate(279.00 264.25) scale(0.822 1)" font-size="7.70" text-anchor="end" fill="#000" stroke="#000" stroke-width="0.09">TRBV05</text>
<text transform="translate(279.00 273.05) scale(0.822 1)" font-size="7.70" text-anchor="end" fill="#000" stroke="#000" stroke-width="0.09">TRBV04</text>
<text transform="translate(279.00 281.85) scale(0.822 1)" font-size="7.70" text-anchor="end" fill="#000" stroke="#000" stroke-width="0.09">TRBV03</text>
<text transform="translate(279.00 290.65) scale(0.822 1)" font-size="7.70" text-anchor="end" fill="#000" stroke="#000" stroke-width="0.09">TRBV02</text>
<text transform="translate(279.00 299.45) scale(0.822 1)" font-size="7.70" text-anchor="end" fill="#000" stroke="#000" stroke-width="0.09">TRBV01</text>
<text transform="translate(291.10 303.40) rotate(-90) scale(0.930 1)" font-size="6.60" text-anchor="end" fill="#000" stroke="#000" stroke-width="0.08">TRBJ01</text>
<text transform="translate(303.70 303.40) rotate(-90) scale(0.930 1)" font-size="6.60" text-anchor="end" fill="#000" stroke="#000" stroke-width="0.08">TRBJ02</text>
<text transform="translate(347.40 17.60) scale(0.960 1)" font-size="11.40" font-weight="bold" fill="#000">D</text>
<text transform="translate(358.90 26.20) scale(0.946 1)" font-size="6.45" fill="#000" stroke="#000" stroke-width="0.07">ImmunoSeq</text>
<text transform="translate(358.90 34.80) scale(0.988 1)" font-size="6.45" fill="#000" stroke="#000" stroke-width="0.07">L2D8 Beta</text>
<rect x="361.30" y="37.20" width="12.65" height="8.80" fill="#dde4f4"/>
<rect x="373.95" y="37.20" width="12.65" height="8.80" fill="#dde4f4"/>
<rect x="361.30" y="46.00" width="12.65" height="8.80" fill="#dde4f4"/>
<rect x="373.95" y="46.00" width="12.65" height="8.80" fill="#dde4f4"/>
<rect x="361.30" y="54.80" width="12.65" height="8.80" fill="#dde4f4"/>
<rect x="373.95" y="54.80" width="12.65" height="8.80" fill="#dde4f4"/>
<rect x="361.30" y="63.60" width="12.65" height="8.80" fill="#dde4f4"/>
<rect x="373.95" y="63.60" width="12.65" height="8.80" fill="#dde4f4"/>
<rect x="361.30" y="72.40" width="12.65" height="8.80" fill="#f5f7fc"/>
<rect x="361.30" y="81.20" width="12.65" height="8.80" fill="#e0e6f5"/>
<rect x="373.95" y="81.20" width="12.65" height="8.80" fill="#e3e8f6"/>
<rect x="361.30" y="90.00" width="12.65" height="8.80" fill="#e0e6f5"/>
<rect x="373.95" y="90.00" width="12.65" height="8.80" fill="#dde4f4"/>
<rect x="361.30" y="98.80" width="12.65" height="8.80" fill="#e0e6f5"/>
<rect x="373.95" y="98.80" width="12.65" height="8.80" fill="#e6ebf7"/>
<rect x="361.30" y="116.40" width="12.65" height="8.80" fill="#dde4f4"/>
<rect x="373.95" y="116.40" width="12.65" height="8.80" fill="#e0e6f5"/>
<rect x="361.30" y="125.20" width="12.65" height="8.80" fill="#d2daf0"/>
<rect x="373.95" y="125.20" width="12.65" height="8.80" fill="#d2daf0"/>
<rect x="361.30" y="134.00" width="12.65" height="8.80" fill="#d5ddf1"/>
<rect x="373.95" y="134.00" width="12.65" height="8.80" fill="#d5ddf1"/>
<rect x="361.30" y="142.80" width="12.65" height="8.80" fill="#d8e0f2"/>
<rect x="373.95" y="142.80" width="12.65" height="8.80" fill="#d8e0f2"/>
<rect x="361.30" y="151.60" width="12.65" height="8.80" fill="#f3f5fb"/>
<rect x="361.30" y="160.40" width="12.65" height="8.80" fill="#eff2f9"/>
<rect x="373.95" y="160.40" width="12.65" height="8.80" fill="#f5f7fc"/>
<rect x="361.30" y="169.20" width="12.65" height="8.80" fill="#e3e8f5"/>
<rect x="373.95" y="169.20" width="12.65" height="8.80" fill="#e3e8f5"/>
<rect x="361.30" y="178.00" width="12.65" height="8.80" fill="#e3e8f5"/>
<rect x="373.95" y="178.00" width="12.65" height="8.80" fill="#e3e8f5"/>
<rect x="361.30" y="186.80" width="12.65" height="8.80" fill="#eaeef8"/>
<rect x="373.95" y="186.80" width="12.65" height="8.80" fill="#eaeef8"/>
<rect x="361.30" y="195.60" width="12.65" height="8.80" fill="#d3dbf0"/>
<rect x="373.95" y="195.60" width="12.65" height="8.80" fill="#d3dbf0"/>
<rect x="361.30" y="204.40" width="12.65" height="8.80" fill="#d8dff2"/>
<rect x="373.95" y="204.40" width="12.65" height="8.80" fill="#d8dff2"/>
<rect x="361.30" y="213.20" width="12.65" height="8.80" fill="#dbe2f3"/>
<rect x="373.95" y="213.20" width="12.65" height="8.80" fill="#cdd7ef"/>
<rect x="361.30" y="222.00" width="12.65" height="8.80" fill="#d8dff2"/>
<rect x="373.95" y="222.00" width="12.65" height="8.80" fill="#d8dff2"/>
<rect x="373.95" y="230.80" width="12.65" height="8.80" fill="#f6f8fc"/>
<rect x="361.30" y="239.60" width="12.65" height="8.80" fill="#4a6fb3"/>
<rect x="373.95" y="239.60" width="12.65" height="8.80" fill="#c8d3ee"/>
<rect x="361.30" y="248.40" width="12.65" height="8.80" fill="#d3dbf0"/>
<rect x="373.95" y="248.40" width="12.65" height="8.80" fill="#d3dbf0"/>
<rect x="361.30" y="257.20" width="12.65" height="8.80" fill="#cfd8ef"/>
<rect x="373.95" y="257.20" width="12.65" height="8.80" fill="#cfd8ef"/>
<rect x="361.30" y="266.00" width="12.65" height="8.80" fill="#d5ddf1"/>
<rect x="373.95" y="266.00" width="12.65" height="8.80" fill="#d5ddf1"/>
<rect x="361.30" y="274.80" width="12.65" height="8.80" fill="#d5ddf1"/>
<rect x="373.95" y="274.80" width="12.65" height="8.80" fill="#d5ddf1"/>
<rect x="361.30" y="283.60" width="12.65" height="8.80" fill="#d0d9f0"/>
<rect x="373.95" y="283.60" width="12.65" height="8.80" fill="#d0d9f0"/>
<rect x="373.95" y="292.40" width="12.65" height="8.80" fill="#eef1f9"/>
<line x1="361.30" x2="386.60" y1="46.00" y2="46.00" stroke="#8a8a8a" stroke-width="1"/>
<line x1="361.30" x2="386.60" y1="54.80" y2="54.80" stroke="#8a8a8a" stroke-width="1"/>
<line x1="361.30" x2="386.60" y1="63.60" y2="63.60" stroke="#8a8a8a" stroke-width="1"/>
<line x1="361.30" x2="386.60" y1="72.40" y2="72.40" stroke="#8a8a8a" stroke-width="1"/>
<line x1="361.30" x2="386.60" y1="81.20" y2="81.20" stroke="#8a8a8a" stroke-width="1"/>
<line x1="361.30" x2="386.60" y1="90.00" y2="90.00" stroke="#8a8a8a" stroke-width="1"/>
<line x1="361.30" x2="386.60" y1="98.80" y2="98.80" stroke="#8a8a8a" stroke-width="1"/>
<line x1="361.30" x2="386.60" y1="107.60" y2="107.60" stroke="#8a8a8a" stroke-width="1"/>
<line x1="361.30" x2="386.60" y1="116.40" y2="116.40" stroke="#8a8a8a" stroke-width="1"/>
<line x1="361.30" x2="386.60" y1="125.20" y2="125.20" stroke="#8a8a8a" stroke-width="1"/>
<line x1="361.30" x2="386.60" y1="134.00" y2="134.00" stroke="#8a8a8a" stroke-width="1"/>
<line x1="361.30" x2="386.60" y1="142.80" y2="142.80" stroke="#8a8a8a" stroke-width="1"/>
<line x1="361.30" x2="386.60" y1="151.60" y2="151.60" stroke="#8a8a8a" stroke-width="1"/>
<line x1="361.30" x2="386.60" y1="160.40" y2="160.40" stroke="#8a8a8a" stroke-width="1"/>
<line x1="361.30" x2="386.60" y1="169.20" y2="169.20" stroke="#8a8a8a" stroke-width="1"/>
<line x1="361.30" x2="386.60" y1="178.00" y2="178.00" stroke="#8a8a8a" stroke-width="1"/>
<line x1="361.30" x2="386.60" y1="186.80" y2="186.80" stroke="#8a8a8a" stroke-width="1"/>
<line x1="361.30" x2="386.60" y1="195.60" y2="195.60" stroke="#8a8a8a" stroke-width="1"/>
<line x1="361.30" x2="386.60" y1="204.40" y2="204.40" stroke="#8a8a8a" stroke-width="1"/>
<line x1="361.30" x2="386.60" y1="213.20" y2="213.20" stroke="#8a8a8a" stroke-width="1"/>
<line x1="361.30" x2="386.60" y1="222.00" y2="222.00" stroke="#8a8a8a" stroke-width="1"/>
<line x1="361.30" x2="386.60" y1="230.80" y2="230.80" stroke="#8a8a8a" stroke-width="1"/>
<line x1="361.30" x2="386.60" y1="239.60" y2="239.60" stroke="#8a8a8a" stroke-width="1"/>
<line x1="361.30" x2="386.60" y1="248.40" y2="248.40" stroke="#8a8a8a" stroke-width="1"/>
<line x1="361.30" x2="386.60" y1="257.20" y2="257.20" stroke="#8a8a8a" stroke-width="1"/>
<line x1="361.30" x2="386.60" y1="266.00" y2="266.00" stroke="#8a8a8a" stroke-width="1"/>
<line x1="361.30" x2="386.60" y1="274.80" y2="274.80" stroke="#8a8a8a" stroke-width="1"/>
<line x1="361.30" x2="386.60" y1="283.60" y2="283.60" stroke="#8a8a8a" stroke-width="1"/>
<line x1="361.30" x2="386.60" y1="292.40" y2="292.40" stroke="#8a8a8a" stroke-width="1"/>
<line x1="373.95" x2="373.95" y1="37.20" y2="301.20" stroke="#8a8a8a" stroke-width="1"/>
<rect x="361.30" y="37.20" width="25.30" height="264.00" fill="none" stroke="#8a8a8a" stroke-width="1"/>
<text transform="translate(370.02 305.00) rotate(-90) scale(0.930 1)" font-size="6.60" text-anchor="end" fill="#000" stroke="#000" stroke-width="0.08">TRBJ01</text>
<text transform="translate(382.68 305.00) rotate(-90) scale(0.930 1)" font-size="6.60" text-anchor="end" fill="#000" stroke="#000" stroke-width="0.08">TRBJ02</text>
<text transform="translate(428.90 17.60) scale(0.960 1)" font-size="11.40" font-weight="bold" fill="#000">E</text>
<text transform="translate(440.80 26.10) scale(0.953 1)" font-size="6.45" fill="#000" stroke="#000" stroke-width="0.07">Capture-ImmunoSeq</text>
<text transform="translate(440.80 34.30) scale(0.975 1)" font-size="6.45" fill="#000" stroke="#000" stroke-width="0.07">Subtractive Comparison</text>
<rect x="455.30" y="37.20" width="12.80" height="8.80" fill="#fbeee9"/>
<rect x="468.10" y="37.20" width="12.80" height="8.80" fill="#fbefea"/>
<rect x="455.30" y="46.00" width="12.80" height="8.80" fill="#fae9e2"/>
<rect x="468.10" y="46.00" width="12.80" height="8.80" fill="#fdf6f3"/>
<rect x="468.10" y="54.80" width="12.80" height="8.80" fill="#fdfbfb"/>
<rect x="455.30" y="63.60" width="12.80" height="8.80" fill="#fdf7f5"/>
<rect x="455.30" y="72.40" width="12.80" height="8.80" fill="#f3cfc2"/>
<rect x="468.10" y="72.40" width="12.80" height="8.80" fill="#f3d0c3"/>
<rect x="455.30" y="81.20" width="12.80" height="8.80" fill="#f8e0d6"/>
<rect x="468.10" y="81.20" width="12.80" height="8.80" fill="#fbeee8"/>
<rect x="455.30" y="90.00" width="12.80" height="8.80" fill="#f8e0d6"/>
<rect x="468.10" y="90.00" width="12.80" height="8.80" fill="#fcf2ef"/>
<rect x="455.30" y="98.80" width="12.80" height="8.80" fill="#f7dfd5"/>
<rect x="468.10" y="98.80" width="12.80" height="8.80" fill="#f7ddd2"/>
<rect x="455.30" y="107.60" width="12.80" height="8.80" fill="#f5d5c8"/>
<rect x="468.10" y="107.60" width="12.80" height="8.80" fill="#f5d5c8"/>
<rect x="455.30" y="116.40" width="12.80" height="8.80" fill="#fbece6"/>
<rect x="468.10" y="116.40" width="12.80" height="8.80" fill="#fdf8f6"/>
<rect x="455.30" y="125.20" width="12.80" height="8.80" fill="#ddd3f0"/>
<rect x="468.10" y="125.20" width="12.80" height="8.80" fill="#9b8bd2"/>
<rect x="455.30" y="134.00" width="12.80" height="8.80" fill="#e2d8f2"/>
<rect x="468.10" y="134.00" width="12.80" height="8.80" fill="#cbbde9"/>
<rect x="468.10" y="142.80" width="12.80" height="8.80" fill="#fdf9f8"/>
<rect x="455.30" y="151.60" width="12.80" height="8.80" fill="#f6d8cb"/>
<rect x="468.10" y="151.60" width="12.80" height="8.80" fill="#f6d7ca"/>
<rect x="455.30" y="160.40" width="12.80" height="8.80" fill="#f8dccf"/>
<rect x="468.10" y="160.40" width="12.80" height="8.80" fill="#f8dccf"/>
<rect x="455.30" y="169.20" width="12.80" height="8.80" fill="#f9e1d7"/>
<rect x="468.10" y="169.20" width="12.80" height="8.80" fill="#fdf5f2"/>
<rect x="455.30" y="178.00" width="12.80" height="8.80" fill="#fae5dc"/>
<rect x="468.10" y="178.00" width="12.80" height="8.80" fill="#fae5dc"/>
<rect x="455.30" y="186.80" width="12.80" height="8.80" fill="#f8dbce"/>
<rect x="468.10" y="186.80" width="12.80" height="8.80" fill="#f8dccf"/>
<rect x="455.30" y="195.60" width="12.80" height="8.80" fill="#e0d8f2"/>
<rect x="468.10" y="195.60" width="12.80" height="8.80" fill="#c4b8e6"/>
<rect x="455.30" y="204.40" width="12.80" height="8.80" fill="#f0ecf8"/>
<rect x="468.10" y="204.40" width="12.80" height="8.80" fill="#e2dbf3"/>
<rect x="468.10" y="213.20" width="12.80" height="8.80" fill="#3d40a8"/>
<rect x="455.30" y="222.00" width="12.80" height="8.80" fill="#fdfafa"/>
<rect x="468.10" y="222.00" width="12.80" height="8.80" fill="#f3f0fa"/>
<rect x="455.30" y="230.80" width="12.80" height="8.80" fill="#f7d8ca"/>
<rect x="468.10" y="230.80" width="12.80" height="8.80" fill="#f7d5c5"/>
<rect x="455.30" y="239.60" width="12.80" height="8.80" fill="#d0101a"/>
<rect x="468.10" y="239.60" width="12.80" height="8.80" fill="#4547aa"/>
<rect x="455.30" y="248.40" width="12.80" height="8.80" fill="#8c7ec6"/>
<rect x="468.10" y="248.40" width="12.80" height="8.80" fill="#4648a8"/>
<rect x="455.30" y="257.20" width="12.80" height="8.80" fill="#a597d4"/>
<rect x="468.10" y="257.20" width="12.80" height="8.80" fill="#6858b8"/>
<rect x="455.30" y="266.00" width="12.80" height="8.80" fill="#eee9f7"/>
<rect x="468.10" y="266.00" width="12.80" height="8.80" fill="#d6cbee"/>
<rect x="455.30" y="274.80" width="12.80" height="8.80" fill="#efeaf7"/>
<rect x="468.10" y="274.80" width="12.80" height="8.80" fill="#f0ecf8"/>
<rect x="455.30" y="283.60" width="12.80" height="8.80" fill="#f8f6fc"/>
<rect x="468.10" y="283.60" width="12.80" height="8.80" fill="#f8f6fc"/>
<rect x="455.30" y="292.40" width="12.80" height="8.80" fill="#f8dccf"/>
<rect x="468.10" y="292.40" width="12.80" height="8.80" fill="#f8dacc"/>
<line x1="455.30" x2="480.90" y1="46.00" y2="46.00" stroke="#8a8a8a" stroke-width="1"/>
<line x1="455.30" x2="480.90" y1="54.80" y2="54.80" stroke="#8a8a8a" stroke-width="1"/>
<line x1="455.30" x2="480.90" y1="63.60" y2="63.60" stroke="#8a8a8a" stroke-width="1"/>
<line x1="455.30" x2="480.90" y1="72.40" y2="72.40" stroke="#8a8a8a" stroke-width="1"/>
<line x1="455.30" x2="480.90" y1="81.20" y2="81.20" stroke="#8a8a8a" stroke-width="1"/>
<line x1="455.30" x2="480.90" y1="90.00" y2="90.00" stroke="#8a8a8a" stroke-width="1"/>
<line x1="455.30" x2="480.90" y1="98.80" y2="98.80" stroke="#8a8a8a" stroke-width="1"/>
<line x1="455.30" x2="480.90" y1="107.60" y2="107.60" stroke="#8a8a8a" stroke-width="1"/>
<line x1="455.30" x2="480.90" y1="116.40" y2="116.40" stroke="#8a8a8a" stroke-width="1"/>
<line x1="455.30" x2="480.90" y1="125.20" y2="125.20" stroke="#8a8a8a" stroke-width="1"/>
<line x1="455.30" x2="480.90" y1="134.00" y2="134.00" stroke="#8a8a8a" stroke-width="1"/>
<line x1="455.30" x2="480.90" y1="142.80" y2="142.80" stroke="#8a8a8a" stroke-width="1"/>
<line x1="455.30" x2="480.90" y1="151.60" y2="151.60" stroke="#8a8a8a" stroke-width="1"/>
<line x1="455.30" x2="480.90" y1="160.40" y2="160.40" stroke="#8a8a8a" stroke-width="1"/>
<line x1="455.30" x2="480.90" y1="169.20" y2="169.20" stroke="#8a8a8a" stroke-width="1"/>
<line x1="455.30" x2="480.90" y1="178.00" y2="178.00" stroke="#8a8a8a" stroke-width="1"/>
<line x1="455.30" x2="480.90" y1="186.80" y2="186.80" stroke="#8a8a8a" stroke-width="1"/>
<line x1="455.30" x2="480.90" y1="195.60" y2="195.60" stroke="#8a8a8a" stroke-width="1"/>
<line x1="455.30" x2="480.90" y1="204.40" y2="204.40" stroke="#8a8a8a" stroke-width="1"/>
<line x1="455.30" x2="480.90" y1="213.20" y2="213.20" stroke="#8a8a8a" stroke-width="1"/>
<line x1="455.30" x2="480.90" y1="222.00" y2="222.00" stroke="#8a8a8a" stroke-width="1"/>
<line x1="455.30" x2="480.90" y1="230.80" y2="230.80" stroke="#8a8a8a" stroke-width="1"/>
<line x1="455.30" x2="480.90" y1="239.60" y2="239.60" stroke="#8a8a8a" stroke-width="1"/>
<line x1="455.30" x2="480.90" y1="248.40" y2="248.40" stroke="#8a8a8a" stroke-width="1"/>
<line x1="455.30" x2="480.90" y1="257.20" y2="257.20" stroke="#8a8a8a" stroke-width="1"/>
<line x1="455.30" x2="480.90" y1="266.00" y2="266.00" stroke="#8a8a8a" stroke-width="1"/>
<line x1="455.30" x2="480.90" y1="274.80" y2="274.80" stroke="#8a8a8a" stroke-width="1"/>
<line x1="455.30" x2="480.90" y1="283.60" y2="283.60" stroke="#8a8a8a" stroke-width="1"/>
<line x1="455.30" x2="480.90" y1="292.40" y2="292.40" stroke="#8a8a8a" stroke-width="1"/>
<line x1="468.10" x2="468.10" y1="37.20" y2="301.20" stroke="#8a8a8a" stroke-width="1"/>
<rect x="455.30" y="37.20" width="25.60" height="264.00" fill="none" stroke="#8a8a8a" stroke-width="1"/>
<text transform="translate(464.10 305.00) rotate(-90) scale(0.930 1)" font-size="6.60" text-anchor="end" fill="#000" stroke="#000" stroke-width="0.08">TRBJ01</text>
<text transform="translate(476.90 305.00) rotate(-90) scale(0.930 1)" font-size="6.60" text-anchor="end" fill="#000" stroke="#000" stroke-width="0.08">TRBJ02</text>
<rect x="314.10" y="149.70" width="9" height="41.10" fill="url(#lg12)"/>
<text transform="translate(311.40 125.80) scale(0.900 1)" font-size="7.00" fill="#000" stroke="#000" stroke-width="0.08">Unique</text>
<text transform="translate(311.40 133.60) scale(0.900 1)" font-size="7.00" fill="#000" stroke="#000" stroke-width="0.08">Counts</text>
<text transform="translate(311.40 141.00) scale(0.900 1)" font-size="7.00" fill="#000" stroke="#000" stroke-width="0.08">(log10)</text>
<line x1="314.10" x2="315.90" y1="162.20" y2="162.20" stroke="#fff" stroke-width="0.8"/>
<line x1="321.30" x2="323.10" y1="162.20" y2="162.20" stroke="#fff" stroke-width="0.8"/>
<text transform="translate(326.30 164.40) scale(0.900 1)" font-size="6.20" fill="#222" stroke="#222" stroke-width="0.08">2</text>
<line x1="314.10" x2="315.90" y1="177.60" y2="177.60" stroke="#fff" stroke-width="0.8"/>
<line x1="321.30" x2="323.10" y1="177.60" y2="177.60" stroke="#fff" stroke-width="0.8"/>
<text transform="translate(326.30 179.80) scale(0.900 1)" font-size="6.20" fill="#222" stroke="#222" stroke-width="0.08">1</text>
<line x1="314.10" x2="315.90" y1="192.80" y2="192.80" stroke="#fff" stroke-width="0.8"/>
<line x1="321.30" x2="323.10" y1="192.80" y2="192.80" stroke="#fff" stroke-width="0.8"/>
<text transform="translate(326.30 195.00) scale(0.900 1)" font-size="6.20" fill="#222" stroke="#222" stroke-width="0.08">0</text>
<rect x="393.00" y="149.90" width="9" height="42.60" fill="url(#lg13)"/>
<text transform="translate(392.80 130.70) scale(0.900 1)" font-size="7.00" fill="#000" stroke="#000" stroke-width="0.08">Unique</text>
<text transform="translate(392.80 138.80) scale(0.900 1)" font-size="7.00" fill="#000" stroke="#000" stroke-width="0.08">Counts</text>
<text transform="translate(392.80 146.50) scale(0.900 1)" font-size="7.00" fill="#000" stroke="#000" stroke-width="0.08">(log10)</text>
<line x1="393.00" x2="394.80" y1="153.00" y2="153.00" stroke="#fff" stroke-width="0.8"/>
<text transform="translate(405.80 155.20) scale(0.900 1)" font-size="6.20" fill="#222" stroke="#222" stroke-width="0.08">5</text>
<line x1="393.00" x2="394.80" y1="161.10" y2="161.10" stroke="#fff" stroke-width="0.8"/>
<text transform="translate(405.80 163.30) scale(0.900 1)" font-size="6.20" fill="#222" stroke="#222" stroke-width="0.08">4</text>
<line x1="393.00" x2="394.80" y1="169.20" y2="169.20" stroke="#fff" stroke-width="0.8"/>
<text transform="translate(405.80 171.40) scale(0.900 1)" font-size="6.20" fill="#222" stroke="#222" stroke-width="0.08">3</text>
<line x1="393.00" x2="394.80" y1="177.30" y2="177.30" stroke="#fff" stroke-width="0.8"/>
<text transform="translate(405.80 179.50) scale(0.900 1)" font-size="6.20" fill="#222" stroke="#222" stroke-width="0.08">2</text>
<line x1="393.00" x2="394.80" y1="185.50" y2="185.50" stroke="#fff" stroke-width="0.8"/>
<text transform="translate(405.80 187.70) scale(0.900 1)" font-size="6.20" fill="#222" stroke="#222" stroke-width="0.08">1</text>
<line x1="393.00" x2="394.80" y1="193.60" y2="193.60" stroke="#fff" stroke-width="0.8"/>
<text transform="translate(405.80 195.80) scale(0.900 1)" font-size="6.20" fill="#222" stroke="#222" stroke-width="0.08">0</text>
<rect x="487.5" y="150" width="8.6" height="43.2" fill="url(#lg14)"/>
<text transform="translate(486.80 137.40) scale(0.886 1)" font-size="7.00" fill="#000" stroke="#000" stroke-width="0.08">Fraction</text>
<text transform="translate(486.80 144.80) scale(0.886 1)" font-size="7.00" fill="#000" stroke="#000" stroke-width="0.08">Variation</text>
<text transform="translate(499.00 153.40) scale(0.900 1)" font-size="6.20" fill="#222" stroke="#222" stroke-width="0.08">0.012</text>
<line x1="487.5" x2="489.3" y1="164.50" y2="164.50" stroke="#fff" stroke-width="0.8"/>
<line x1="494.3" x2="496.1" y1="164.50" y2="164.50" stroke="#fff" stroke-width="0.8"/>
<text transform="translate(499.00 166.70) scale(0.900 1)" font-size="6.20" fill="#222" stroke="#222" stroke-width="0.08">0.008</text>
<line x1="487.5" x2="489.3" y1="177.90" y2="177.90" stroke="#fff" stroke-width="0.8"/>
<line x1="494.3" x2="496.1" y1="177.90" y2="177.90" stroke="#fff" stroke-width="0.8"/>
<text transform="translate(499.00 180.10) scale(0.900 1)" font-size="6.20" fill="#222" stroke="#222" stroke-width="0.08">0.004</text>
<text transform="translate(499.00 193.30) scale(0.900 1)" font-size="6.20" fill="#222" stroke="#222" stroke-width="0.08">0.000</text></svg><div class="frame"></div>
</body></html>
